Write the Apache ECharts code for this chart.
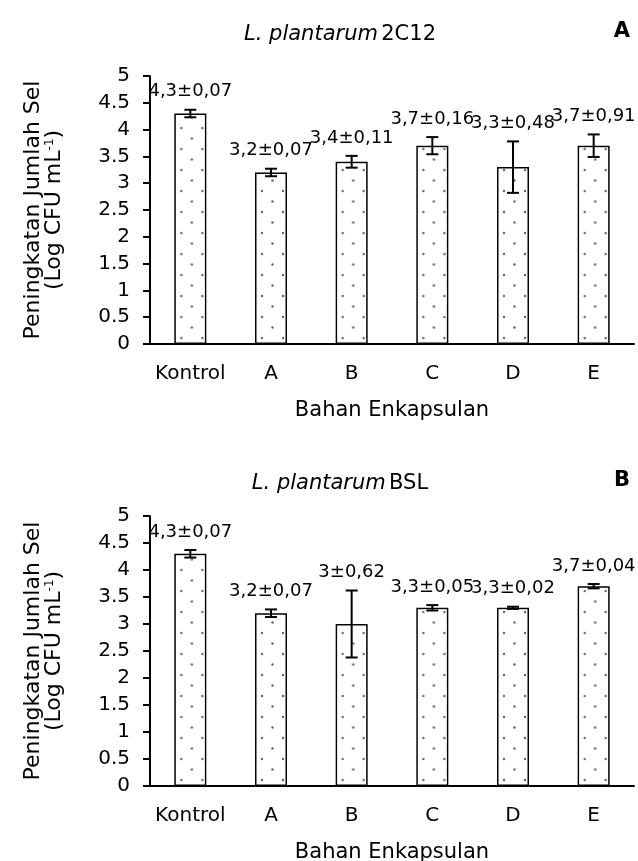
<!DOCTYPE html>
<html><head><meta charset="utf-8">
<script src="https://cdn.jsdelivr.net/npm/echarts@6/dist/echarts.min.js"></script>
<style>html,body{margin:0;padding:0;background:#fff}#c{width:638px;height:861px}</style>
</head><body><div id="c"></div>
<script>
const categories = ['Kontrol', 'A', 'B', 'C', 'D', 'E'];
const valuesA = [4.3, 3.2, 3.4, 3.7, 3.3, 3.7];
const errorsA = [0.07, 0.07, 0.11, 0.16, 0.48, 0.21];
const labelsA = ['4,3±0,07', '3,2±0,07', '3,4±0,11', '3,7±0,16', '3,3±0,48', '3,7±0,91'];
const valuesB = [4.3, 3.2, 3.0, 3.3, 3.3, 3.7];
const errorsB = [0.07, 0.07, 0.62, 0.05, 0.02, 0.04];
const labelsB = ['4,3±0,07', '3,2±0,07', '3±0,62', '3,3±0,05', '3,3±0,02', '3,7±0,04'];
const titleA = ['L. plantarum', '2C12', 'A'];
const titleB = ['L. plantarum', 'BSL', 'B'];
const yName = ['Peningkatan Jumlah Sel', '(Log CFU mL', '-1', ')'];
const xName = 'Bahan Enkapsulan';

const FONT = '"DejaVu Sans", sans-serif';
const BAR_W = 32;

// dotted fill pattern tile
const pc = document.createElement('canvas');
pc.width = 21; pc.height = 21;
const ctx = pc.getContext('2d');
ctx.fillStyle = '#fff'; ctx.fillRect(0, 0, 21, 21);
ctx.fillStyle = '#666';
ctx.beginPath(); ctx.arc(5, 5, 1.2, 0, Math.PI * 2); ctx.fill();
ctx.beginPath(); ctx.arc(15.5, 15.5, 1.2, 0, Math.PI * 2); ctx.fill();

const chart = echarts.init(document.getElementById('c'), null, {renderer: 'canvas'});

function xAxis(idx) {
  return {
    type: 'category', gridIndex: idx, data: categories,
    axisLine: {lineStyle: {color: '#000', width: 2}},
    axisTick: {alignWithLabel: true, length: 6, lineStyle: {color: '#000', width: 2}},
    axisLabel: {color: '#000', fontFamily: FONT, fontSize: 20, margin: 20, interval: 0},
    name: xName, nameLocation: 'middle', nameGap: 56,
    nameTextStyle: {color: '#000', fontFamily: FONT, fontSize: 21}
  };
}
function yAxis(idx) {
  return {
    type: 'value', gridIndex: idx, min: 0, max: 5, interval: 0.5,
    axisLine: {show: true, lineStyle: {color: '#000', width: 2}},
    axisTick: {show: true, length: 7, lineStyle: {color: '#000', width: 2}},
    splitLine: {show: false},
    axisLabel: {color: '#000', fontFamily: FONT, fontSize: 20, margin: 20},
    name: '{a|' + yName[0] + '}\n{a|' + yName[1] + '}{s|' + yName[2] + '}{a|' + yName[3] + '}',
    nameLocation: 'middle', nameGap: 85, nameRotate: 90,
    nameTextStyle: {
      color: '#000', fontFamily: FONT, fontSize: 22, lineHeight: 21,
      rich: {a: {fontFamily: FONT, fontSize: 22, color: '#000', lineHeight: 21},
             s: {fontFamily: FONT, fontSize: 12, color: '#000', verticalAlign: 'top', lineHeight: 21}}
    }
  };
}
function barSeries(idx, vals) {
  return {
    type: 'bar', xAxisIndex: idx, yAxisIndex: idx, data: vals, barWidth: BAR_W,
    itemStyle: {color: '#fff', borderColor: '#000', borderWidth: 2},
    silent: true, z: 2
  };
}
// dotted fill inside each bar, anchored to the bar's own left/bottom edges
function dotSeries(idx, vals) {
  return {
    type: 'custom', xAxisIndex: idx, yAxisIndex: idx, z: 3, silent: true,
    data: vals.map((v, i) => [i, v]),
    renderItem: function (params, api) {
      const top = api.coord([api.value(0), api.value(1)]);
      const bot = api.coord([api.value(0), 0]);
      const left = top[0] - BAR_W / 2;
      return {
        type: 'rect',
        shape: {x: left + 1.5, y: top[1] + 1.5, width: BAR_W - 3, height: bot[1] - top[1] - 3},
        style: {fill: {image: pc, repeat: 'repeat', x: left + 2, y: bot[1] - 11}}
      };
    }
  };
}
function errSeries(idx, vals, errs, labels) {
  return {
    type: 'custom', xAxisIndex: idx, yAxisIndex: idx, z: 10, silent: true,
    data: vals.map((v, i) => [i, v - errs[i], v + errs[i]]),
    renderItem: function (params, api) {
      const lo = api.coord([api.value(0), api.value(1)]);
      const hi = api.coord([api.value(0), api.value(2)]);
      const w = 6;
      const st = {stroke: '#000', lineWidth: 2};
      return {
        type: 'group', children: [
          {type: 'line', shape: {x1: hi[0], y1: hi[1], x2: lo[0], y2: lo[1]}, style: st},
          {type: 'line', shape: {x1: hi[0] - w, y1: hi[1], x2: hi[0] + w, y2: hi[1]}, style: st},
          {type: 'line', shape: {x1: lo[0] - w, y1: lo[1], x2: lo[0] + w, y2: lo[1]}, style: st},
          {type: 'text', x: hi[0], y: hi[1] - 18,
           style: {text: labels[params.dataIndex], fill: '#000', font: '18px ' + FONT,
                   align: 'center', verticalAlign: 'middle'}}
        ]
      };
    }
  };
}
function titleGraphic(t, y) {
  return [
    {type: 'text', x: 340, y: y,
     style: {text: '{i|' + t[0] + '} {n|' + t[1] + '}', align: 'center', verticalAlign: 'middle',
             rich: {i: {fontStyle: 'italic', fontFamily: FONT, fontSize: 21, fill: '#000'},
                    n: {fontFamily: FONT, fontSize: 21, fill: '#000'}}}},
    {type: 'text', x: 622, y: y - 3,
     style: {text: t[2], font: 'bold 21px ' + FONT, fill: '#000', align: 'center', verticalAlign: 'middle'}}
  ];
}

chart.setOption({
  animation: false,
  backgroundColor: '#fff',
  grid: [
    {left: 150, width: 484, top: 76, height: 268, outerBoundsMode: 'none', containLabel: false},
    {left: 150, width: 484, top: 516, height: 270, outerBoundsMode: 'none', containLabel: false}
  ],
  xAxis: [xAxis(0), xAxis(1)],
  yAxis: [yAxis(0), yAxis(1)],
  series: [
    barSeries(0, valuesA), dotSeries(0, valuesA), errSeries(0, valuesA, errorsA, labelsA),
    barSeries(1, valuesB), dotSeries(1, valuesB), errSeries(1, valuesB, errorsB, labelsB)
  ],
  graphic: [].concat(titleGraphic(titleA, 35), titleGraphic(titleB, 484))
});
</script>
</body></html>
